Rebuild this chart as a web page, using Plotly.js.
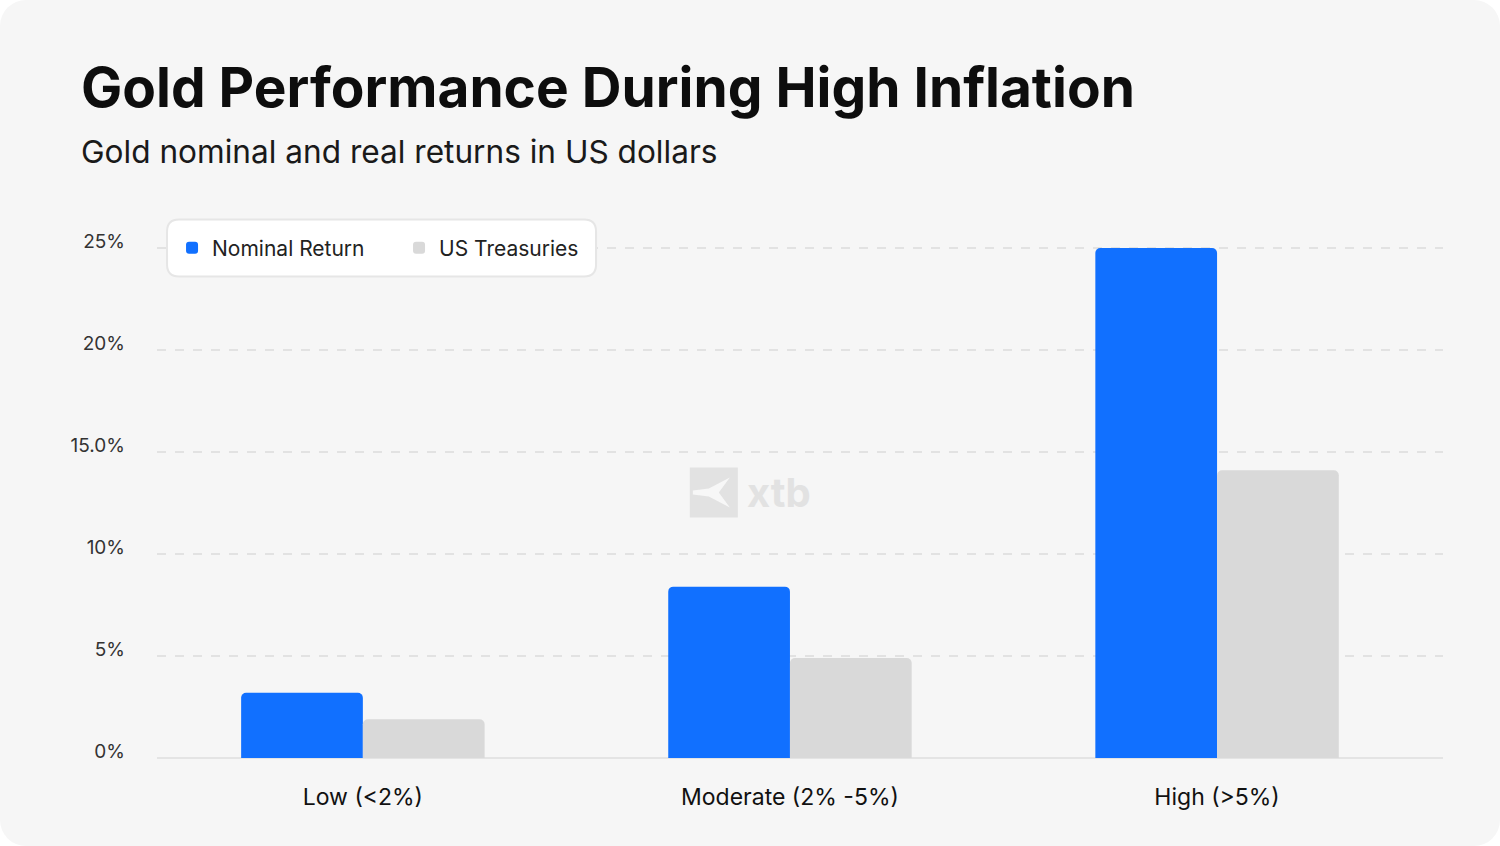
<!DOCTYPE html>
<html>
<head>
<meta charset="utf-8">
<script src="https://cdn.plot.ly/plotly-3.0.1.min.js"></script>
<style>
  html, body { margin: 0; padding: 0; background: #ffffff; }
  #chart { width: 1500px; height: 846px; background: #f6f6f6; border-radius: 26px; overflow: hidden; }
</style>
</head>
<body>
<div id="chart"></div>
<script>
(function () {
  "use strict";

  var categories = ["Low (<2%)", "Moderate (2% -5%)", "High (>5%)"];
  var nominalReturn = [3.2, 8.4, 25.0];
  var usTreasuries = [1.9, 4.9, 14.1];
  var yTickVals = [0, 5, 10, 15, 20, 25];
  var yTickText = ["0%", "5%", "10%", "15.0%", "20%", "25%"];

  var font = { family: "Inter, 'Noto Sans', sans-serif", color: "#1a1a1a" };

  // rounded box drawn behind the legend, in pixels around its centre
  function roundRect(w, h, r) {
    var a = w / 2, b = h / 2;
    return "M" + (-a + r) + "," + (-b) + " L" + (a - r) + "," + (-b) +
      " Q" + a + "," + (-b) + " " + a + "," + (-b + r) +
      " L" + a + "," + (b - r) + " Q" + a + "," + b + " " + (a - r) + "," + b +
      " L" + (-a + r) + "," + b + " Q" + (-a) + "," + b + " " + (-a) + "," + (b - r) +
      " L" + (-a) + "," + (-b + r) + " Q" + (-a) + "," + (-b) + " " + (-a + r) + "," + (-b) + " Z";
  }

  Plotly.newPlot("chart", [{
    type: "bar",
    name: "Nominal Return",
    x: categories,
    y: nominalReturn,
    marker: { color: "#1170ff", cornerradius: 5, line: { width: 0 } },
    hovertemplate: "%{x}: %{y}%<extra>Nominal Return</extra>"
  }, {
    type: "bar",
    name: "US Treasuries",
    x: categories,
    y: usTreasuries,
    marker: { color: "#d9d9d9", cornerradius: 5, line: { width: 0 } },
    hovertemplate: "%{x}: %{y}%<extra>US Treasuries</extra>"
  }], {
    width: 1500,
    height: 846,
    font: font,
    paper_bgcolor: "rgba(0,0,0,0)",
    plot_bgcolor: "rgba(0,0,0,0)",
    margin: { t: 247, r: 57, b: 88, l: 157 },
    barmode: "group",
    bargap: 0.43,
    bargroupgap: 0,
    showlegend: true,
    legend: {
      orientation: "h",
      x: 0.0117, xanchor: "left",
      y: 0.998, yanchor: "middle",
      bgcolor: "rgba(0,0,0,0)",
      borderwidth: 0,
      entrywidth: 182,
      font: { size: 21, color: "#222222" },
      itemclick: false,
      itemdoubleclick: false
    },
    xaxis: {
      type: "category",
      range: [-0.482, 2.529],
      showgrid: false,
      zeroline: false,
      showline: false,
      ticks: "",
      ticklabelstandoff: 23,
      tickfont: { size: 23, color: "#111111" },
      fixedrange: true
    },
    yaxis: {
      range: [0, 25.05],
      tickvals: yTickVals,
      ticktext: yTickText,
      showgrid: true,
      gridcolor: "#e2e2e2",
      gridwidth: 1.5,
      griddash: "dash",
      zeroline: true,
      zerolinecolor: "#e4e4e4",
      zerolinewidth: 2,
      showline: false,
      ticks: "",
      ticklabelstandoff: 31,
      ticklabelshift: -7,
      tickfont: { size: 19, color: "#333333" },
      fixedrange: true
    },
    shapes: [{
      type: "path",
      layer: "above",
      xref: "paper", yref: "paper",
      xsizemode: "pixel", ysizemode: "pixel",
      xanchor: 0.1746, yanchor: 0.998,
      path: roundRect(429, 57, 12),
      fillcolor: "#ffffff",
      line: { color: "#e6e6e6", width: 2 }
    }, {
      type: "rect",
      layer: "below",
      xref: "paper", yref: "paper",
      xsizemode: "pixel", ysizemode: "pixel",
      xanchor: 0.433, yanchor: 0.5196,
      x0: -24, x1: 24, y0: -25, y1: 25,
      fillcolor: "#e2e2e2",
      line: { width: 0 }
    }, {
      type: "path",
      layer: "below",
      xref: "paper", yref: "paper",
      xsizemode: "pixel", ysizemode: "pixel",
      xanchor: 0.433, yanchor: 0.5196,
      path: "M-21,-2 L-5,-4 L16,-15 L5,0 L16,15 L-5,4 L-21,2 Z",
      fillcolor: "#f7f7f7",
      line: { width: 0 }
    }],
    annotations: [{
      text: "<b>Gold Performance During High Inflation</b>",
      xref: "paper", yref: "paper",
      x: -0.061, y: 1.3137,
      xanchor: "left", yanchor: "middle",
      showarrow: false,
      font: { family: "Inter, sans-serif", size: 55, color: "#0d0d0d" }
    }, {
      text: "Gold nominal and real returns in US dollars",
      xref: "paper", yref: "paper",
      x: -0.061, y: 1.186,
      xanchor: "left", yanchor: "middle",
      showarrow: false,
      font: { family: "Inter, sans-serif", size: 31.6, color: "#1a1a1a" }
    }, {
      text: "<b>xtb</b>",
      xref: "paper", yref: "paper",
      x: 0.4837, y: 0.5196,
      xanchor: "center", yanchor: "middle",
      showarrow: false,
      font: { family: "Inter, sans-serif", size: 40, color: "#e2e2e2" }
    }]
  }, {
    displayModeBar: false,
    displaylogo: false,
    responsive: false
  });
}());
</script>
</body>
</html>
